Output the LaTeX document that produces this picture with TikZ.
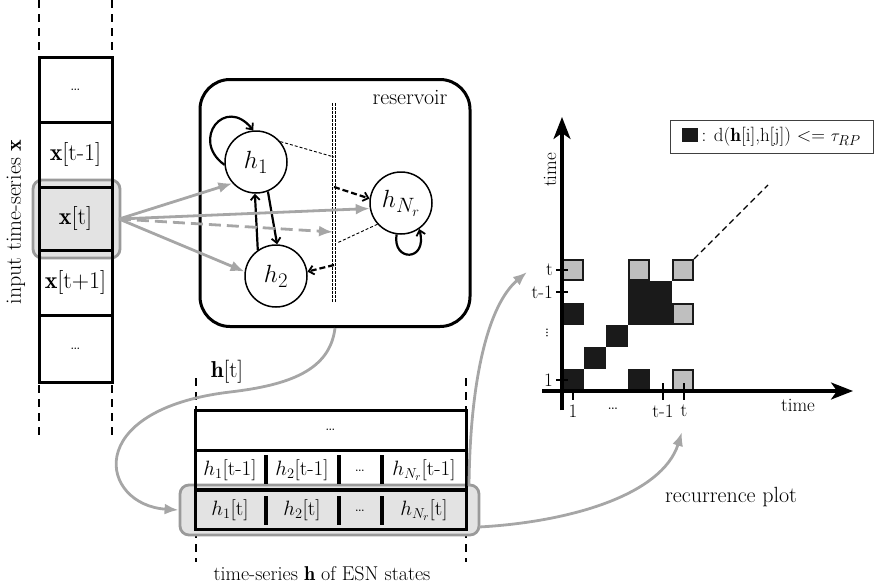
\documentclass[tikz,border=0pt]{standalone}
\usepackage{fontspec}
\usetikzlibrary{arrows.meta,calc}
\definecolor{arrgray}{HTML}{A6A6A6}
\definecolor{hlborder}{HTML}{9A9A9A}
\definecolor{hlfill}{HTML}{E3E3E3}
\definecolor{cellgray}{HTML}{BFBFBF}
\definecolor{cellblack}{HTML}{1A1A1A}
\newcommand{\myfs}[1]{\fontsize{#1}{#1}\selectfont}
\begin{document}
\begin{tikzpicture}[x=1pt,y=-1pt,
  thickline/.style={line width=3pt,black},
  coldash/.style={line width=2.2pt,dash pattern=on 8pt off 6pt},
  cellbox/.style={draw,line width=3pt,minimum width=73pt,inner sep=0pt,font=\myfs{24}},
  hl/.style={line width=2.8pt,draw=hlborder,fill=hlfill,rounded corners=9pt,inner sep=0pt},
  grayarrow/.style={line width=2.8pt,arrgray,-{Latex[length=14pt,width=11pt]}},
  neuron/.style={circle,draw,line width=1.5pt,minimum size=62pt,inner sep=0pt,fill=white,font=\myfs{28}},
  blackarrow/.style={line width=2.2pt,-{Straight Barb[length=5pt,width=9pt,line width=1.8pt]}},
  thindash/.style={line width=0.9pt,dash pattern=on 3pt off 2pt},
  bcell/.style={fill=cellblack},
  gcell/.style={fill=cellgray,draw=cellblack,line width=2.4pt},
  axis/.style={line width=3.2pt,-{Stealth[length=22pt,width=17pt,inset=6pt]}},
  tick/.style={line width=1.4pt},
  lbl/.style={font=\myfs{19},inner sep=1pt}
]
\useasboundingbox (0,0) rectangle (876,587);

% ---------- input time series ----------
\draw[coldash] (39,0) -- (39,55);
\draw[coldash] (112,0) -- (112,55);
\draw[coldash] (39,385) -- (39,440);
\draw[coldash] (112,385) -- (112,440);
\node[hl,minimum width=87pt,minimum height=78pt] (xhl) at (76.5,219) {};
\node[cellbox,minimum height=65pt] (x0) at (75.5,89.5) {\myfs{18}\dots};
\node[cellbox,minimum height=65pt] (x1) at (75.5,154.5) {$\mathbf{x}$[t-1]};
\node[cellbox,minimum height=63pt,fill=hlfill] (x2) at (75.5,218.5) {$\mathbf{x}$[t]};
\node[cellbox,minimum height=65pt] (x3) at (75.5,282.5) {$\mathbf{x}$[t+1]};
\node[cellbox,minimum height=67pt] (x4) at (75.5,348.5) {\myfs{18}\dots};
\node[rotate=90,font=\myfs{22}] (inlabel) at (16,222) {input time-series $\mathbf{x}$};

% ---------- reservoir ----------
\node[draw,line width=3pt,rounded corners=30pt,minimum width=270pt,minimum height=247pt] (res) at (335,203) {};
\node[font=\myfs{22}] (reslabel) at (410,97) {reservoir};
\draw[line width=1pt,dash pattern=on 2.5pt off 1.5pt] (332.3,103) -- (332.3,303);
\draw[line width=1pt,dash pattern=on 2.5pt off 1.5pt] (335.7,103) -- (335.7,303);
\coordinate (d1) at (334,157);
\coordinate (d2) at (334,187);
\coordinate (d3) at (333,232);
\coordinate (d4) at (337,243);
\coordinate (d5) at (334,265);

\node[neuron] (h1) at (256,162) {$h_1$};
\node[neuron] (h2) at (276,276) {$h_2$};
\node[neuron] (hN) at (401,203) {$h_{N_r}$};

\draw[thindash] (h1.40) -- (d1);
\draw[thindash] (hN.222) -- (d4);
\draw[blackarrow,dash pattern=on 6pt off 3pt] (d2) -- (hN.172);
\draw[blackarrow,dash pattern=on 6pt off 3pt] (d5) -- (h2.8);

\draw[blackarrow] (h1.185) .. controls (190,140) and (225,95) .. (h1.95);
\draw[blackarrow] (hN.262) .. controls (392,262) and (428,262) .. (hN.305);
\draw[blackarrow] (h2.125) -- (h1.268);
\draw[blackarrow] (h1.292) -- (h2.88);

\coordinate (xs) at (119,219);
\draw[grayarrow] (xs) -- (h1.222);
\draw[grayarrow] (xs) -- (h2.172);
\draw[grayarrow] (xs) -- (hN.190);
\draw[grayarrow,dash pattern=on 12pt off 6pt] (xs) -- (d3);

% ---------- ESN state table ----------
\draw[coldash] (196,378) -- (196,410);
\draw[coldash] (466,378) -- (466,410);
\draw[coldash] (196,530) -- (196,562);
\draw[coldash] (466,530) -- (466,562);
\node[hl,minimum width=299pt,minimum height=50pt] (hrow) at (329.5,510) {};
\node[draw,line width=3pt,minimum width=271pt,minimum height=40pt,inner sep=0pt,font=\myfs{18}] (row0) at (330.5,430) {\dots};
\draw[thickline] (195,450) -- (195,529) -- (466,529) -- (466,450);
\draw[line width=4.5pt] (195,490) -- (466,490);
\foreach \xx in {266,339,382} {
  \draw[line width=3.6pt] (\xx,455) -- (\xx,484);
  \draw[line width=3.6pt] (\xx,496) -- (\xx,525);
}
\node[font=\myfs{21}] (c11) at (230,470) {$h_1$[t-1]};
\node[font=\myfs{21}] (c12) at (302,470) {$h_2$[t-1]};
\node[font=\myfs{18}] (c13) at (360,471) {\dots};
\node[font=\myfs{21}] (c14) at (424,470) {$h_{N_r}$[t-1]};
\node[font=\myfs{21}] (c21) at (230,510) {$h_1$[t]};
\node[font=\myfs{21}] (c22) at (302,510) {$h_2$[t]};
\node[font=\myfs{18}] (c23) at (360,511) {\dots};
\node[font=\myfs{21}] (c24) at (424,510) {$h_{N_r}$[t]};
\node[font=\myfs{23}] (htlabel) at (227,372) {$\mathbf{h}$[t]};
\node[font=\myfs{20}] (tslabel) at (322,574) {time-series $\mathbf{h}$ of ESN states};

% curved arrows
\draw[grayarrow] (res.south) .. controls (330,370) and (290,385) .. (230,392)
      .. controls (80,410) and (100,505) .. (hrow.west);
\coordinate (up0) at (469,486);
\coordinate (up1) at (527,272);
\draw[grayarrow] (up0) .. controls (470,380) and (488,305) .. (up1);
\coordinate (rp0) at (479,527);
\coordinate (rp1) at (682,432);
\draw[grayarrow] (rp0) .. controls (570,522) and (662,495) .. (rp1);
\node[font=\myfs{22}] (rplabel) at (731,497) {recurrence plot};

% ---------- recurrence plot ----------
\foreach \c/\r in {1/1,2/2,3/3,4/4,5/4,4/5,5/5,1/4,4/1}
  \fill[bcell] (562+22*\c-22,391-22*\r) rectangle ++(22,22);
\foreach \c/\r in {6/4,6/1,1/6,4/6,6/6}
  \filldraw[gcell] (562+22*\c-22+1.2,391-22*\r+1.2) rectangle ++(19.6,19.6);
\draw[axis] (562,410) -- (562,117);
\draw[axis] (542,391) -- (853,391);
\draw[tick] (556,270) -- (568,270);
\draw[tick] (556,292) -- (568,292);
\draw[tick] (556,380) -- (568,380);
\node[lbl,anchor=east] (yt) at (554,270) {t};
\node[lbl,anchor=east] (yt1) at (554,292) {t-1};
\node[lbl,anchor=east] (y1) at (554,380) {1};
\node[lbl,rotate=90] (ydots) at (547,333) {\dots};
\draw[tick] (573,391) -- (573,400);
\draw[tick] (663,383) -- (663,400);
\draw[tick] (684,383) -- (684,400);
\node[lbl] (x1l) at (573,411) {1};
\node[lbl] (xdl) at (613,409) {\dots};
\node[lbl] (xt1l) at (663,411) {t-1};
\node[lbl] (xtl) at (684,411) {t};
\node[lbl] (xtime) at (798,405) {time};
\node[lbl,rotate=90] (ytime) at (550,170) {time};
\draw[line width=1.3pt,dash pattern=on 6pt off 4pt] (694,259) -- (768,185);
\node[draw=black!75,line width=1pt,minimum width=203pt,minimum height=33pt,inner sep=2pt,font=\myfs{19}] (legend) at (771.5,136.5)
  {{\color{cellblack}\rule[-1pt]{16pt}{14pt}}\,: d($\mathbf{h}$[i],h[j]) <= $\tau_{RP}$};
\end{tikzpicture}
\end{document}
